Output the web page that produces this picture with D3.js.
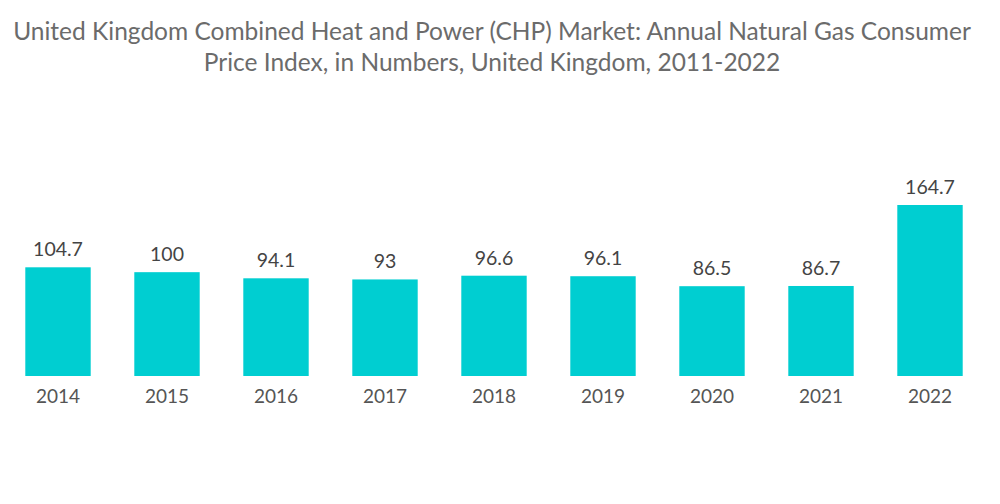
<!DOCTYPE html>
<html>
<head>
<meta charset="utf-8">
<script src="https://cdn.jsdelivr.net/npm/d3@7"></script>
<style>
  body { margin: 0; background: #fff; }
  svg { display: block; }
</style>
</head>
<body>
<div id="chart"></div>
<script>
// chart data
var years = ["2014", "2015", "2016", "2017", "2018", "2019", "2020", "2021", "2022"];
var priceIndex = [104.7, 100, 94.1, 93, 96.6, 96.1, 86.5, 86.7, 164.7];
var titleLines = [
    "United Kingdom Combined Heat and Power (CHP) Market: Annual Natural Gas Consumer",
    "Price Index, in Numbers, United Kingdom, 2011-2022"
];

var svgWidth = 1000;
var svgHeight = 504;
var baseline = 376;

var svg = d3.select("#chart")
    .append("svg")
    .attr("width", svgWidth)
    .attr("height", svgHeight);

// title
svg.append("g")
    .selectAll("text")
    .data(titleLines)
    .enter()
    .append("text")
    .attr("x", 492)
    .attr("y", (d, i) => 40 + i * 31)
    .attr("text-anchor", "middle")
    .attr("font-family", "Lato, sans-serif")
    .attr("font-size", "24.5px")
    .attr("fill", "#6b6b6b")
    .text(d => d);

// scales
var xBand = d3.scaleBand()
    .domain(years)
    .range([3.5, 984.5])
    .paddingInner(0.4)
    .paddingOuter(0.2);

var yLinear = d3.scaleLinear()
    .domain([0, 164.7])
    .range([baseline, 205]);

// bars
svg.append("g")
    .selectAll("rect")
    .data(priceIndex)
    .enter()
    .append("rect")
    .attr("x", (d, i) => xBand(years[i]))
    .attr("y", d => yLinear(d))
    .attr("width", xBand.bandwidth())
    .attr("height", d => baseline - yLinear(d))
    .attr("fill", "#00ced1");

// value labels
svg.append("g")
    .selectAll("text")
    .data(priceIndex)
    .enter()
    .append("text")
    .attr("x", (d, i) => xBand(years[i]) + xBand.bandwidth() / 2)
    .attr("y", d => yLinear(d) - 11)
    .attr("text-anchor", "middle")
    .attr("font-family", "Lato, sans-serif")
    .attr("font-size", "19.5px")
    .attr("fill", "#444")
    .text(d => d);

// x axis
var bottomAxis = d3.axisBottom(xBand).tickSize(0).tickPadding(14);
var xAxis = svg.append("g")
    .attr("transform", `translate(0, ${baseline})`)
    .call(bottomAxis);
xAxis.select(".domain").remove();
xAxis.selectAll("text")
    .attr("font-family", "Lato, sans-serif")
    .attr("font-size", "19px")
    .attr("fill", "#555");
</script>
</body>
</html>
